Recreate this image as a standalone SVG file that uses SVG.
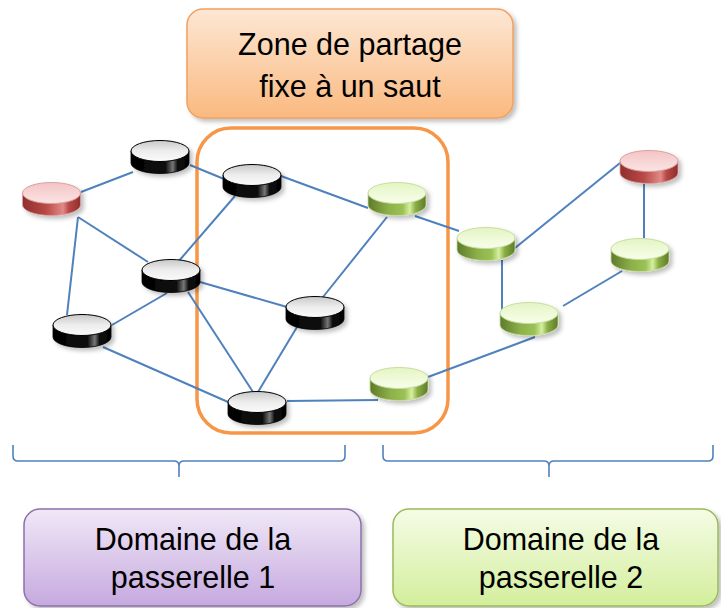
<svg xmlns="http://www.w3.org/2000/svg" width="721" height="608" viewBox="0 0 721 608">
<defs>
<linearGradient id="gOrange" x1="0" y1="0" x2="0" y2="1"><stop offset="0" stop-color="#FDE7D4"/><stop offset="1" stop-color="#FAB97F"/></linearGradient>
<linearGradient id="gPurple" x1="0" y1="0" x2="0" y2="1"><stop offset="0" stop-color="#F0E8F7"/><stop offset="1" stop-color="#C6A9DF"/></linearGradient>
<linearGradient id="gGreenBox" x1="0" y1="0" x2="0" y2="1"><stop offset="0" stop-color="#F5FCE6"/><stop offset="1" stop-color="#D3EE9C"/></linearGradient>
<linearGradient id="topBlack" x1="0" y1="0" x2="0" y2="1"><stop offset="0" stop-color="#C8C8C8"/><stop offset="0.5" stop-color="#EDEDED"/><stop offset="1" stop-color="#FAFAFA"/></linearGradient>
<linearGradient id="bodyBlack" x1="0" y1="0" x2="1" y2="0"><stop offset="0" stop-color="#000"/><stop offset="0.6" stop-color="#111"/><stop offset="0.72" stop-color="#777"/><stop offset="0.8" stop-color="#111"/><stop offset="1" stop-color="#000"/></linearGradient>
<linearGradient id="topGreen" x1="0" y1="0" x2="0" y2="1"><stop offset="0" stop-color="#E4F5C3"/><stop offset="1" stop-color="#F8FEEB"/></linearGradient>
<linearGradient id="bodyGreen" x1="0" y1="0" x2="1" y2="0"><stop offset="0" stop-color="#5E7A2A"/><stop offset="0.35" stop-color="#8DB04A"/><stop offset="0.6" stop-color="#9BC255"/><stop offset="0.72" stop-color="#D6F0A0"/><stop offset="0.82" stop-color="#8AAE45"/><stop offset="1" stop-color="#5E7A2A"/></linearGradient>
<linearGradient id="topRed" x1="0" y1="0" x2="0" y2="1"><stop offset="0" stop-color="#F4C4C4"/><stop offset="1" stop-color="#FBE4E4"/></linearGradient>
<linearGradient id="bodyRed" x1="0" y1="0" x2="1" y2="0"><stop offset="0" stop-color="#8E2E2C"/><stop offset="0.4" stop-color="#B84846"/><stop offset="0.7" stop-color="#E08A88"/><stop offset="0.8" stop-color="#B84846"/><stop offset="1" stop-color="#8E2E2C"/></linearGradient>
<filter id="sh" x="-20%" y="-20%" width="150%" height="160%"><feDropShadow dx="3" dy="3" stdDeviation="2" flood-color="#000" flood-opacity="0.25"/></filter>
<symbol id="cylBlack" overflow="visible"><path d="M-29,0 V12 A29,10.5 0 0 0 29,12 V0 Z" fill="url(#bodyBlack)" stroke="#000" stroke-width="0.8"/><ellipse cx="0" cy="0" rx="29" ry="10.5" fill="url(#topBlack)" stroke="#000" stroke-width="1"/></symbol>
<symbol id="cylGreen" overflow="visible"><path d="M-29,0 V12 A29,10.5 0 0 0 29,12 V0 Z" fill="url(#bodyGreen)" stroke="#C8DDA0" stroke-width="0.8"/><ellipse cx="0" cy="0" rx="29" ry="10.5" fill="url(#topGreen)" stroke="#C8DDA0" stroke-width="1"/></symbol>
<symbol id="cylRed" overflow="visible"><path d="M-29,0 V12 A29,10.5 0 0 0 29,12 V0 Z" fill="url(#bodyRed)" stroke="#D9A0A0" stroke-width="0.8"/><ellipse cx="0" cy="0" rx="29" ry="10.5" fill="url(#topRed)" stroke="#D9A0A0" stroke-width="1"/></symbol>
</defs>
<style>
.lbl{font-family:"Liberation Sans","Noto Sans",Arial,sans-serif;font-size:30.5px;fill:#000;text-anchor:middle}
.edge{stroke:#4F81BD;stroke-width:2;fill:none}
.brace{stroke:#4F81BD;stroke-width:1.6;fill:none}
</style>
<rect width="721" height="608" fill="#fff"/>

<g id="zone-label">
<rect x="187" y="9" width="326" height="109" rx="16" fill="url(#gOrange)" stroke="#F0A060" stroke-width="1.5" filter="url(#sh)"/>
<text class="lbl" x="350" y="55">Zone de partage</text>
<text class="lbl" x="350" y="97">fixe à un saut</text>
</g>

<g id="zone">
<rect x="197" y="128" width="251" height="305" rx="34" fill="none" stroke="#F79646" stroke-width="3.5"/>
</g>

<g id="connectors">
<line class="edge" x1="81" y1="192" x2="133" y2="172"/>
<line class="edge" x1="78" y1="217" x2="148" y2="262"/>
<line class="edge" x1="78" y1="217" x2="67" y2="315"/>
<line class="edge" x1="190" y1="165" x2="224" y2="179"/>
<line class="edge" x1="281" y1="176" x2="368" y2="208"/>
<line class="edge" x1="235" y1="196" x2="178" y2="262"/>
<line class="edge" x1="167" y1="293" x2="112" y2="325"/>
<line class="edge" x1="200" y1="282" x2="287" y2="307"/>
<line class="edge" x1="188" y1="292" x2="253" y2="392"/>
<line class="edge" x1="103" y1="347" x2="228" y2="402"/>
<line class="edge" x1="297" y1="327" x2="258" y2="392"/>
<line class="edge" x1="323" y1="297" x2="387" y2="217"/>
<line class="edge" x1="287" y1="401" x2="378" y2="400"/>
<line class="edge" x1="415" y1="216" x2="459" y2="231"/>
<line class="edge" x1="515" y1="248" x2="620" y2="163"/>
<line class="edge" x1="502" y1="260" x2="502" y2="310"/>
<line class="edge" x1="622" y1="271" x2="563" y2="306"/>
<line class="edge" x1="644" y1="184" x2="644" y2="238"/>
<line class="edge" x1="535" y1="337" x2="428" y2="377"/>
<path class="brace" d="M13,445 V456 Q13,461 18,461 H174 Q179,461 179,466 V477 M179,466 Q179,461 184,461 H340 Q345,461 345,456 V445"/>
<path class="brace" d="M383,445 V456 Q383,461 388,461 H544 Q549,461 549,466 V477 M549,466 Q549,461 554,461 H708 Q713,461 713,456 V445"/>
</g>

<g id="n-r1" filter="url(#sh)"><use href="#cylRed" x="51.5" y="193"/></g>
<g id="n-b1" filter="url(#sh)"><use href="#cylBlack" x="160" y="151"/></g>
<g id="n-b2" filter="url(#sh)"><use href="#cylBlack" x="252" y="175"/></g>
<g id="n-b3" filter="url(#sh)"><use href="#cylBlack" x="171" y="270"/></g>
<g id="n-b4" filter="url(#sh)"><use href="#cylBlack" x="82" y="325"/></g>
<g id="n-b5" filter="url(#sh)"><use href="#cylBlack" x="315" y="307"/></g>
<g id="n-b6" filter="url(#sh)"><use href="#cylBlack" x="257" y="402"/></g>
<g id="n-g1" filter="url(#sh)"><use href="#cylGreen" x="397" y="193"/></g>
<g id="n-g2" filter="url(#sh)"><use href="#cylGreen" x="486" y="238"/></g>
<g id="n-r2" filter="url(#sh)"><use href="#cylRed" x="649" y="161"/></g>
<g id="n-g3" filter="url(#sh)"><use href="#cylGreen" x="640" y="249"/></g>
<g id="n-g4" filter="url(#sh)"><use href="#cylGreen" x="529" y="313"/></g>
<g id="n-g5" filter="url(#sh)"><use href="#cylGreen" x="399" y="378"/></g>

<g id="domain1">
<rect x="24" y="509" width="337" height="97" rx="16" fill="url(#gPurple)" stroke="#8C72AB" stroke-width="1.5" filter="url(#sh)"/>
<text class="lbl" x="193" y="550">Domaine de la</text>
<text class="lbl" x="193" y="588">passerelle 1</text>
</g>
<g id="domain2">
<rect x="393" y="509" width="325" height="97" rx="16" fill="url(#gGreenBox)" stroke="#9BBB59" stroke-width="1.5" filter="url(#sh)"/>
<text class="lbl" x="561" y="550">Domaine de la</text>
<text class="lbl" x="561" y="588">passerelle 2</text>
</g>
</svg>
